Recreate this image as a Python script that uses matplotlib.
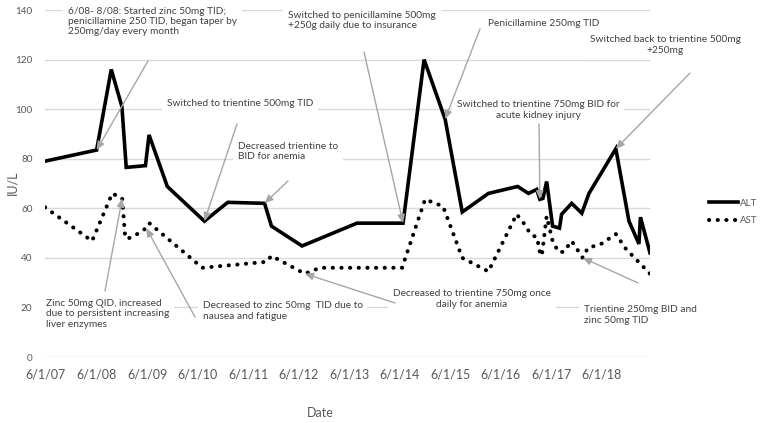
import matplotlib
matplotlib.use("Agg")
import matplotlib.pyplot as plt
import pandas as pd

# ALT / AST (IU/L)
alt_dates = ['2007-05-25', '2008-06-01', '2008-09-15', '2008-12-01', '2009-01-01', '2009-05-20',
             '2009-06-15', '2009-10-25', '2010-07-20', '2011-01-05', '2011-09-28', '2011-11-17',
             '2012-06-25', '2013-07-27', '2014-06-25', '2014-11-24', '2015-04-25', '2015-08-27',
             '2016-03-03', '2016-09-30', '2016-12-18', '2017-02-15', '2017-03-10', '2017-04-01',
             '2017-04-28', '2017-06-10', '2017-07-30', '2017-08-14', '2017-10-26', '2018-01-07',
             '2018-02-28', '2018-09-10', '2018-12-14', '2019-02-24', '2019-03-07', '2019-05-15']
alt_values = [79, 83.5, 116, 101, 76.5, 77.2,
              89.6, 68.8, 54.8, 62.4, 62, 52.8,
              44.8, 54, 54, 120, 96, 58.5,
              66, 68.8, 66, 67.6, 63.6, 64,
              70.8, 52.8, 52, 57.6, 62, 58,
              66, 84, 54.8, 45.6, 56.4, 42]

ast_dates = ['2007-05-25', '2008-04-29', '2008-09-22', '2008-12-03', '2008-12-25', '2009-01-23',
             '2009-03-21', '2009-05-26', '2009-06-17', '2010-07-05', '2011-10-12', '2011-11-17',
             '2012-07-15', '2012-11-01', '2014-06-18', '2014-12-01', '2015-04-10', '2015-08-27',
             '2016-03-03', '2016-09-23', '2016-11-13', '2017-01-02', '2017-02-22', '2017-03-01',
             '2017-03-24', '2017-04-28', '2017-06-10', '2017-07-22', '2017-08-28', '2017-10-26',
             '2018-01-14', '2018-02-20', '2018-05-26', '2018-09-10', '2018-11-22', '2019-05-15']
ast_values = [60.4, 46.8, 66, 64, 48, 48,
              49.6, 52, 54, 36, 38.4, 40.8,
              33.6, 36, 36, 63.6, 60.8, 40,
              34.5, 57.6, 54, 49.6, 48, 43.6,
              40.8, 56.8, 46.8, 42.4, 42.4, 46.8,
              40, 44, 45.6, 49.6, 43.6, 33.6]

y_ticks = [0, 20, 40, 60, 80, 100, 120, 140]
x_tick_dates = ['2007-06-01', '2008-06-01', '2009-06-01', '2010-06-01', '2011-06-01', '2012-06-01',
                '2013-06-01', '2014-06-01', '2015-06-01', '2016-06-01', '2017-06-01', '2018-06-01']
x_tick_labels = ['6/1/07', '6/1/08', '6/1/09', '6/1/10', '6/1/11', '6/1/12',
                 '6/1/13', '6/1/14', '6/1/15', '6/1/16', '6/1/17', '6/1/18']

# callout texts, the series they point at and the index of the point
notes = [
    ("6/08- 8/08: Started zinc 50mg TID;\npenicillamine 250 TID, began taper by\n250mg/day every month", 'ALT', 1),
    ("Switched to trientine 500mg TID", 'ALT', 8),
    ("Decreased trientine to\nBID for anemia", 'ALT', 10),
    ("Switched to penicillamine 500mg\n+250g daily due to insurance", 'ALT', 14),
    ("Penicillamine 250mg TID", 'ALT', 16),
    ("Switched to trientine 750mg BID for\nacute kidney injury", 'ALT', 22),
    ("Switched back to trientine 500mg\n+250mg", 'ALT', 31),
    ("Zinc 50mg QID, increased\ndue to persistent increasing\nliver enzymes", 'AST', 3),
    ("Decreased to zinc 50mg  TID due to\nnausea and fatigue", 'AST', 7),
    ("Decreased to trientine 750mg once\ndaily for anemia", 'AST', 12),
    ("Trientine 250mg BID and\nzinc 50mg TID", 'AST', 30),
]

# layout (reference pixels, from top-left): text x, text y, ha, arrow start x, arrow start y
note_layout = [
    (68, 21.5, 'left', 148, 61),
    (167, 103, 'left', 237, 124),
    (238, 151.5, 'left', 288, 181),
    (288, 20.5, 'left', 364, 52),
    (488, 24, 'left', 480, 29),
    (538, 110, 'center', 539, 124),
    (665, 45, 'center', 690, 73),
    (46, 314, 'left', 105, 291),
    (203, 311, 'left', 195, 317),
    (472, 299, 'center', 395, 303),
    (584, 315, 'left', 638, 283),
]

W, H = 762, 423
plt.rcParams['font.family'] = ['Lato', 'DejaVu Sans']

alt_x = pd.to_datetime(alt_dates)
ast_x = pd.to_datetime(ast_dates)

fig = plt.figure(figsize=(W / 100, H / 100), dpi=100)
ax = fig.add_axes([45 / W, 1 - 357 / H, (650 - 45) / W, (357 - 10) / H])

ax.plot(alt_x, alt_values, color='black', lw=2.6, solid_joinstyle='miter', label='ALT', zorder=4)
ax.plot(ast_x, ast_values, color='black', lw=2.9, linestyle=(0, (0.05, 2.1)),
        dash_capstyle='round', label='AST', zorder=4)

ax.set_ylim(0, 140)
ax.set_xlim(pd.Timestamp('2007-05-25'), pd.Timestamp('2019-05-15'))
ax.set_yticks(y_ticks)
ax.set_xticks(pd.to_datetime(x_tick_dates))
ax.set_xticklabels(x_tick_labels)
ax.grid(True, axis='y', color='#d9d9d9', lw=1, zorder=0)
ax.set_axisbelow(True)
for s in ax.spines.values():
    s.set_visible(False)
ax.tick_params(axis='both', length=0)
ax.tick_params(axis='y', labelsize=7.2, labelcolor='#595959', pad=9)
ax.tick_params(axis='x', labelsize=9, labelcolor='#595959', pad=8)

series = {'ALT': (alt_x, alt_values), 'AST': (ast_x, ast_values)}
for (txt, name, idx), (tx, ty, ha, sx, sy) in zip(notes, note_layout):
    xs, ys = series[name]
    ax.text(tx / W, 1 - ty / H, txt, transform=fig.transFigure, ha=ha, va='center',
            multialignment=ha, fontsize=7.3, color='#404040', linespacing=1.2,
            bbox=dict(boxstyle='square,pad=0.5', fc='white', ec='none'), zorder=3, clip_on=False)
    ax.annotate('', xy=(xs[idx], ys[idx]), xycoords='data',
                xytext=(sx, H - sy), textcoords='figure pixels',
                arrowprops=dict(arrowstyle='-|>,head_length=0.5,head_width=0.22', color='#a6a6a6',
                                lw=1, shrinkA=0, shrinkB=0),
                annotation_clip=False, zorder=5)

fig.text(12 / W, 1 - 183 / H, 'IU/L', rotation=90, ha='center', va='center', fontsize=9, color='#595959')
fig.text(320 / W, 1 - 413 / H, 'Date', ha='center', va='center', fontsize=9, color='#595959')

fig.legend(loc='center left', bbox_to_anchor=(700 / W, 1 - 212 / H), frameon=False, fontsize=7,
           handlelength=3.0, handletextpad=0.2, labelspacing=0.9, labelcolor='#595959')

fig.savefig('out.png', dpi=100)
